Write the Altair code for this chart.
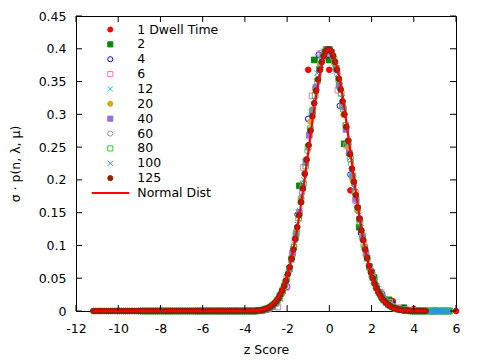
import altair as alt
import pandas as pd

# ---------------- data ----------------
SERIES = ["1 Dwell Time", "2", "4", "6", "12", "20", "40", "60", "80", "100", "125"]
DWELL = [1, 2, 4, 6, 12, 20, 40, 60, 80, 100, 125]

# sigma * p(n, lambda, mu) for n = 0, 1, 2, ...
V1 = [0.368, 0.368, 0.184, 0.061, 0.015, 0.003, 0.001, 0.0]
V2 = [0.191, 0.383, 0.383, 0.255, 0.128, 0.051, 0.017, 0.005, 0.001, 0.0, 0.0]
V4 = [0.037, 0.147, 0.293, 0.391, 0.391, 0.313, 0.208, 0.119, 0.060, 0.026,
      0.011, 0.004, 0.001, 0.0, 0.0, 0.0]
V6 = [0.006, 0.036, 0.109, 0.219, 0.328, 0.393, 0.393, 0.337, 0.253, 0.169,
      0.101, 0.055, 0.028, 0.013, 0.005, 0.002, 0.001, 0.0, 0.0, 0.0]
V12 = [0, 0, 0.002, 0.006, 0.018, 0.044, 0.088, 0.151, 0.227, 0.303,
       0.363, 0.396, 0.396, 0.366, 0.313, 0.251, 0.188, 0.133, 0.089, 0.056,
       0.034, 0.019, 0.010, 0.005, 0.003, 0.001, 0.001, 0, 0, 0,
       0, 0]
V20 = [0, 0, 0, 0, 0, 0, 0.001, 0.002, 0.006, 0.013,
       0.026, 0.047, 0.079, 0.121, 0.173, 0.231, 0.289, 0.340, 0.377, 0.397,
       0.397, 0.378, 0.344, 0.299, 0.249, 0.199, 0.153, 0.114, 0.081, 0.056,
       0.037, 0.024, 0.015, 0.009, 0.005, 0.003, 0.002, 0.001, 0, 0,
       0, 0, 0, 0, 0, 0]
V40 = [0, 0, 0, 0, 0, 0, 0, 0, 0, 0,
       0, 0, 0, 0, 0, 0, 0, 0, 0,
       0.001, 0.001, 0.002, 0.004, 0.007, 0.012, 0.020, 0.031, 0.045, 0.064,
       0.088, 0.117, 0.150, 0.188, 0.227, 0.268, 0.306, 0.341, 0.369, 0.389,
       0.399, 0.399, 0.389, 0.370, 0.344, 0.312, 0.277, 0.241, 0.205, 0.171,
       0.140, 0.112, 0.088, 0.068, 0.051, 0.038, 0.028, 0.020, 0.014, 0.010,
       0.007, 0.004, 0.003, 0.002, 0.001, 0.001,
       0, 0, 0, 0, 0, 0, 0, 0, 0, 0, 0]
V60 = [0, 0, 0, 0, 0, 0, 0, 0, 0, 0,
       0, 0, 0, 0, 0, 0, 0, 0, 0, 0,
       0, 0, 0, 0, 0, 0, 0, 0, 0, 0,
       0, 0, 0, 0,
       0.001, 0.001, 0.002, 0.003, 0.005, 0.008, 0.011, 0.017, 0.024, 0.033,
       0.045, 0.059, 0.077, 0.098, 0.123, 0.150, 0.180, 0.211, 0.244, 0.276,
       0.308, 0.336, 0.360, 0.379, 0.392, 0.399, 0.399, 0.392, 0.380, 0.361,
       0.339, 0.312, 0.284, 0.254, 0.224, 0.195, 0.167, 0.141, 0.118, 0.097,
       0.079, 0.063, 0.050, 0.039, 0.030, 0.023, 0.017, 0.013, 0.009, 0.007,
       0.005, 0.003, 0.002, 0.002, 0.001, 0.001,
       0, 0, 0, 0, 0, 0, 0, 0, 0, 0, 0, 0, 0]
V80 = [0, 0, 0, 0, 0, 0, 0, 0, 0, 0,
       0, 0, 0, 0, 0, 0, 0, 0, 0, 0,
       0, 0, 0, 0, 0, 0, 0, 0, 0, 0,
       0, 0, 0, 0, 0, 0, 0, 0, 0, 0,
       0, 0, 0, 0, 0, 0, 0, 0, 0, 0,
       0.001, 0.001, 0.002, 0.003, 0.004, 0.006, 0.009, 0.012, 0.017, 0.023,
       0.030, 0.039, 0.051, 0.064, 0.080, 0.098, 0.119, 0.142, 0.167, 0.194,
       0.221, 0.250, 0.278, 0.304, 0.329, 0.351, 0.369, 0.384, 0.394, 0.399,
       0.399, 0.394, 0.384, 0.370, 0.353, 0.332, 0.308, 0.283, 0.258, 0.232,
       0.206, 0.181, 0.157, 0.136, 0.115, 0.097, 0.081, 0.067, 0.055, 0.044,
       0.035, 0.028, 0.022, 0.017, 0.013, 0.010, 0.008, 0.006, 0.004, 0.003,
       0.002, 0.002, 0.001, 0.001, 0.001,
       0, 0, 0, 0, 0, 0, 0, 0, 0, 0, 0, 0, 0, 0, 0, 0, 0]
V100 = [0, 0, 0, 0, 0, 0, 0, 0, 0, 0,
        0, 0, 0, 0, 0, 0, 0, 0, 0, 0,
        0, 0, 0, 0, 0, 0, 0, 0, 0, 0,
        0, 0, 0, 0, 0, 0, 0, 0, 0, 0,
        0, 0, 0, 0, 0, 0, 0, 0, 0, 0,
        0, 0, 0, 0, 0, 0, 0, 0, 0, 0,
        0, 0, 0, 0, 0,
        0, 0.001, 0.001, 0.001, 0.002, 0.003, 0.004, 0.006, 0.008, 0.011,
        0.015, 0.020, 0.026, 0.033, 0.042, 0.052, 0.064, 0.078, 0.094, 0.112,
        0.132, 0.153, 0.176, 0.200, 0.225, 0.250, 0.275, 0.299, 0.321, 0.342,
        0.360, 0.375, 0.387, 0.395, 0.399, 0.399, 0.395, 0.387, 0.376, 0.361,
        0.344, 0.325, 0.303, 0.281, 0.257, 0.234, 0.211, 0.188, 0.167, 0.146,
        0.127, 0.110, 0.094, 0.080, 0.067, 0.056, 0.046, 0.038, 0.031, 0.025,
        0.020, 0.016, 0.012, 0.010, 0.008, 0.006, 0.004, 0.003, 0.002, 0.002,
        0.001, 0.001, 0.001,
        0, 0, 0, 0, 0, 0, 0, 0, 0, 0,
        0, 0, 0, 0, 0, 0, 0, 0, 0, 0]
V125 = [0, 0, 0, 0, 0, 0, 0, 0, 0, 0,
        0, 0, 0, 0, 0, 0, 0, 0, 0, 0,
        0, 0, 0, 0, 0, 0, 0, 0, 0, 0,
        0, 0, 0, 0, 0, 0, 0, 0, 0, 0,
        0, 0, 0, 0, 0, 0, 0, 0, 0, 0,
        0, 0, 0, 0, 0, 0, 0, 0, 0, 0,
        0, 0, 0, 0, 0, 0, 0, 0, 0, 0,
        0, 0, 0, 0, 0, 0, 0, 0, 0, 0,
        0, 0, 0, 0, 0, 0, 0,
        0.001, 0.001, 0.001, 0.002, 0.003, 0.004, 0.005, 0.007, 0.009, 0.012,
        0.015, 0.019, 0.025, 0.031, 0.038, 0.046, 0.056, 0.067, 0.080, 0.094,
        0.110, 0.128, 0.146, 0.166, 0.187, 0.209, 0.231, 0.253, 0.275, 0.297,
        0.317, 0.336, 0.353, 0.368, 0.380, 0.389, 0.396, 0.399, 0.399, 0.396,
        0.389, 0.380, 0.368, 0.354, 0.338, 0.320, 0.300, 0.281, 0.260, 0.239,
        0.217, 0.197, 0.177, 0.158, 0.141, 0.123, 0.108, 0.094, 0.081, 0.069,
        0.059, 0.050, 0.042, 0.035, 0.029, 0.024, 0.019, 0.016, 0.013, 0.010,
        0.008, 0.006, 0.005, 0.004, 0.003, 0.002, 0.002, 0.001, 0.001, 0.001,
        0, 0, 0, 0, 0, 0, 0, 0, 0, 0]
VALUES = [V1, V2, V4, V6, V12, V20, V40, V60, V80, V100, V125]

NORMAL_Z = [-11.18, -4.2, -3.6, -3.4, -3.2, -3.0, -2.8, -2.6, -2.4, -2.2,
            -2.0, -1.8, -1.6, -1.4, -1.2, -1.0, -0.8, -0.6, -0.4, -0.2,
            0.0, 0.2, 0.4, 0.6, 0.8, 1.0, 1.2, 1.4, 1.6, 1.8,
            2.0, 2.2, 2.4, 2.6, 2.8, 3.0, 3.2, 3.4, 3.6, 4.2, 4.56]
NORMAL_Y = [0, 0, 0.001, 0.001, 0.002, 0.004, 0.008, 0.014, 0.022, 0.035,
            0.054, 0.079, 0.111, 0.150, 0.194, 0.242, 0.290, 0.333, 0.368, 0.391,
            0.399, 0.391, 0.368, 0.333, 0.290, 0.242, 0.194, 0.150, 0.111, 0.079,
            0.054, 0.035, 0.022, 0.014, 0.008, 0.004, 0.002, 0.001, 0.001, 0, 0]

X_TICKS = [-12, -10, -8, -6, -4, -2, 0, 2, 4, 6]
Y_TICKS = [0, 0.05, 0.1, 0.15, 0.2, 0.25, 0.3, 0.35, 0.4, 0.45]
LEGEND_LABELS = SERIES + ["Normal Dist"]

# ---------------- styles ----------------
COLORS = ["#ff0000", "#008b00", "#0000ff", "#ff6ec7", "#00cdcd", "#daa520",
          "#9370db", "#999999", "#32cd32", "#1e90ff", "#8b2500"]
X_PATH = "M-1,-1L1,1M-1,1L1,-1"
SHAPES = ["circle", "square", "circle", "square", X_PATH, "circle",
          "square", "circle", "square", X_PATH, "circle"]
FILLED = [True, True, False, False, False, True, True, False, False, False, True]
FILLS = [c if f else "transparent" for c, f in zip(COLORS, FILLED)]
FONT = "DejaVu Sans"
FS = 12.5
W, H = 380, 295

rows = []
for i, (s, d, vals) in enumerate(zip(SERIES, DWELL, VALUES)):
    for n, v in enumerate(vals):
        rows.append({"series": s, "dwell": d, "n": n, "v": v, "order": i})
df = pd.DataFrame(rows)
normal_df = pd.DataFrame({"z": NORMAL_Z, "v": NORMAL_Y})

xscale = alt.Scale(domain=[-12, 6], nice=False, zero=False)
yscale = alt.Scale(domain=[0, 0.45], nice=False, zero=True)

xaxis = alt.Axis(
    values=X_TICKS, title="z Score", ticks=False, tickSize=0, domain=False,
    grid=False, labelExpr="'' + datum.value", labelPadding=11, labelFlush=False,
    labelFontSize=FS, labelFont=FONT, labelColor="black", titleFont=FONT,
    titleFontSize=FS, titleFontWeight="normal", titleColor="black",
    titleY=38, titleBaseline="middle")
yaxis = alt.Axis(
    values=Y_TICKS, title="σ · p(n, λ, μ)", ticks=False, tickSize=0,
    domain=False, grid=False, labelExpr="'' + datum.value", labelPadding=10,
    labelFlush=False,
    labelFontSize=FS, labelFont=FONT, labelColor="black", titleFont=FONT,
    titleFontSize=FS, titleFontWeight="normal", titleColor="black",
    titleX=-61, titleBaseline="middle")

shape_enc = alt.Shape("series:N", scale=alt.Scale(domain=SERIES, range=SHAPES), legend=None)
stroke_enc = alt.Stroke("series:N", scale=alt.Scale(domain=SERIES, range=COLORS), legend=None)
fill_enc = alt.Fill("series:N", scale=alt.Scale(domain=SERIES, range=FILLS), legend=None)

points = alt.Chart(df).transform_calculate(
    z="(datum.n - datum.dwell) / sqrt(datum.dwell)"
).mark_point(size=32, strokeWidth=1, opacity=1, filled=False).encode(
    x=alt.X("z:Q", scale=xscale, axis=xaxis),
    y=alt.Y("v:Q", scale=yscale, axis=yaxis),
    shape=shape_enc, stroke=stroke_enc, fill=fill_enc,
    order=alt.Order("order:Q"),
)

normal = alt.Chart(normal_df).mark_line(color="#ff0000", strokeWidth=2.2,
                                         interpolate="monotone").encode(
    x=alt.X("z:Q", scale=xscale, axis=xaxis),
    y=alt.Y("v:Q", scale=yscale, axis=None),
)

xt = pd.DataFrame({"t": X_TICKS})
yt = pd.DataFrame({"t": Y_TICKS})
tick_bottom = alt.Chart(xt).mark_rule(color="black").encode(
    x=alt.X("t:Q", scale=xscale, axis=xaxis), y=alt.value(H), y2=alt.value(H - 6))
tick_top = alt.Chart(xt).mark_rule(color="black").encode(
    x=alt.X("t:Q", scale=xscale, axis=xaxis), y=alt.value(0), y2=alt.value(6))
tick_left = alt.Chart(yt).mark_rule(color="black").encode(
    y=alt.Y("t:Q", scale=yscale, axis=None), x=alt.value(0), x2=alt.value(6))
tick_right = alt.Chart(yt).mark_rule(color="black").encode(
    y=alt.Y("t:Q", scale=yscale, axis=None), x=alt.value(W), x2=alt.value(W - 6))

# legend (manual, inside the plot, gnuplot style)
leg_rank = alt.Scale(domain=[0, 11], range=[13.5, 177])
leg_sym_df = pd.DataFrame({"series": SERIES, "rank": list(range(len(SERIES)))})
leg_txt_df = pd.DataFrame({"label": LEGEND_LABELS, "rank": list(range(len(LEGEND_LABELS)))})
leg_sym = alt.Chart(leg_sym_df).mark_point(size=26, strokeWidth=1, opacity=1, filled=False).encode(
    x=alt.value(34.3),
    y=alt.Y("rank:Q", scale=leg_rank, axis=None),
    shape=shape_enc, stroke=stroke_enc, fill=fill_enc,
)
leg_txt = alt.Chart(leg_txt_df).mark_text(align="left", baseline="middle", fontSize=FS,
                                          font=FONT, color="black").encode(
    x=alt.value(61.3),
    y=alt.Y("rank:Q", scale=leg_rank, axis=None),
    text="label:N",
)
leg_line = alt.Chart(pd.DataFrame({"k": [0]})).mark_rule(color="#ff0000", strokeWidth=2).encode(
    x=alt.value(15.7), x2=alt.value(53.3), y=alt.value(177),
)

chart = alt.layer(
    points, normal, tick_bottom, tick_top, tick_left, tick_right,
    leg_sym, leg_txt, leg_line,
).resolve_scale(y="independent").properties(
    width=W, height=H, autosize="none",
    padding={"left": 68, "top": 8, "right": 16, "bottom": 48},
    background="white",
).configure_view(stroke="black", strokeWidth=1)

chart.save("out.html", embed_options={"renderer": "svg", "actions": False})
